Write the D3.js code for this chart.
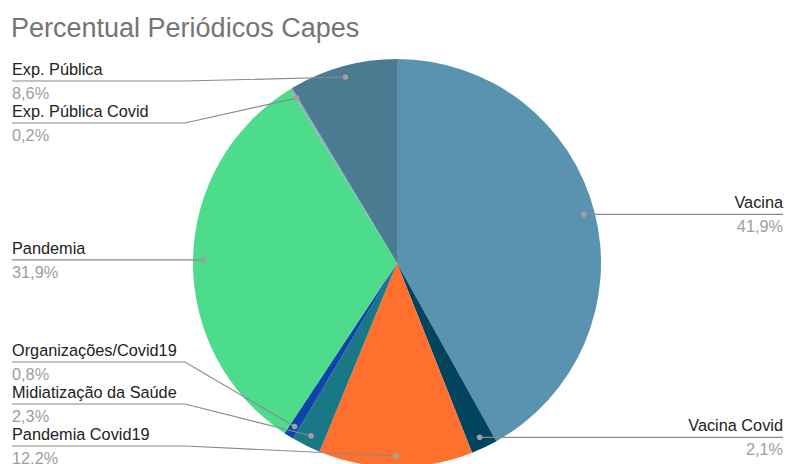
<!DOCTYPE html>
<html lang="pt">
<head>
    <meta charset="utf-8">
    <title>Percentual Periódicos Capes</title>
    <script src="https://d3js.org/d3.v7.min.js"></script>
    <style>
        html, body {
            margin: 0;
            padding: 0;
            background: #fff;
        }
        text {
            font-family: "Liberation Sans", Arial, sans-serif;
        }
        .title {
            font-size: 27px;
            fill: #757575;
        }
        .name {
            font-size: 16.3px;
            fill: #222;
        }
        .pct {
            font-size: 16.3px;
            fill: #9e9e9e;
        }
        .leader {
            fill: none;
            stroke: #8a8a8a;
            stroke-width: 1.2px;
        }
    </style>
</head>
<body>
<script>

    // data
    var categories = ["Vacina", "Vacina Covid", "Pandemia Covid19", "Midiatização da Saúde",
        "Organizações/Covid19", "Pandemia", "Exp. Pública Covid", "Exp. Pública"];
    var values = [41.9, 2.1, 12.2, 2.3, 0.8, 31.9, 0.2, 8.6];
    var colors = ["#5A93B0", "#00445D", "#FF702F", "#1A7785", "#0D45AA", "#4CDC8B", "#8DAEBE", "#4A7B91"];

    var w = 785, h = 464;
    var cx = 397, cy = 263, radius = 204;
    var dotRadius = 193;
    var gap = 42, minY = 81, maxY = 446;
    var elbowLeft = 185, elbowRight = 609;

    var fmt = function(v) { return d3.format(".1f")(v).replace(".", ",") + "%"; };

    var svg = d3.select("body").append("svg")
        .attr("width", w)
        .attr("height", h);

    svg.append("text")
        .attr("class", "title")
        .attr("x", 11)
        .attr("y", 37)
        .text("Percentual Periódicos Capes");

    var pie = d3.pie().sort(null).value(function(d) { return d; });
    var arcs = pie(values);
    var arc = d3.arc().innerRadius(0).outerRadius(radius);
    var dotArc = d3.arc().innerRadius(dotRadius).outerRadius(dotRadius);

    var g = svg.append("g").attr("transform", "translate(" + cx + "," + cy + ")");
    g.selectAll("path.slice")
        .data(arcs)
        .enter().append("path")
        .attr("class", "slice")
        .attr("d", arc)
        .attr("fill", function(d, i) { return colors[i]; });

    // label layout
    var labels = arcs.map(function(a, i) {
        var c = dotArc.centroid(a);
        var mid = (a.startAngle + a.endAngle) / 2;
        return {
            name: categories[i],
            value: values[i],
            dx: cx + c[0],
            dy: cy + c[1],
            left: mid > Math.PI,
            y: cy + c[1]
        };
    });

    function layout(list) {
        list.sort(function(a, b) { return a.dy - b.dy; });
        for (var i = 0; i < list.length; i++) {
            var y = Math.max(list[i].dy, minY);
            if (i > 0) y = Math.max(y, list[i - 1].y + gap);
            list[i].y = y;
        }
        for (var j = list.length - 1; j >= 0; j--) {
            var yy = Math.min(list[j].y, maxY);
            if (j < list.length - 1) yy = Math.min(yy, list[j + 1].y - gap);
            list[j].y = yy;
        }
    }
    layout(labels.filter(function(d) { return d.left; }));
    layout(labels.filter(function(d) { return !d.left; }));

    var lg = svg.append("g");
    lg.selectAll("path.leader")
        .data(labels)
        .enter().append("path")
        .attr("class", "leader")
        .attr("d", function(d) {
            if (d.left) {
                return "M12," + d.y + "L" + elbowLeft + "," + d.y + "L" + d.dx + "," + d.dy;
            }
            return "M" + (w - 2) + "," + d.y + "L" + elbowRight + "," + d.y + "L" + d.dx + "," + d.dy;
        });

    lg.selectAll("circle.dot")
        .data(labels)
        .enter().append("circle")
        .attr("class", "dot")
        .attr("cx", function(d) { return d.dx; })
        .attr("cy", function(d) { return d.dy; })
        .attr("r", 2.8)
        .attr("fill", "#a0a0a0");

    lg.selectAll("text.name")
        .data(labels)
        .enter().append("text")
        .attr("class", "name")
        .attr("x", function(d) { return d.left ? 12 : w - 2; })
        .attr("y", function(d) { return d.y - 6; })
        .attr("text-anchor", function(d) { return d.left ? "start" : "end"; })
        .text(function(d) { return d.name; });

    lg.selectAll("text.pct")
        .data(labels)
        .enter().append("text")
        .attr("class", "pct")
        .attr("x", function(d) { return d.left ? 12 : w - 2; })
        .attr("y", function(d) { return d.y + 18; })
        .attr("text-anchor", function(d) { return d.left ? "start" : "end"; })
        .text(function(d) { return fmt(d.value); });

</script>
</body>
</html>
